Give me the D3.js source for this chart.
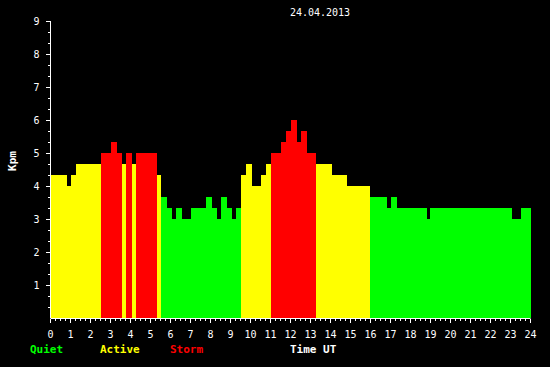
<!DOCTYPE html>
<html><head><meta charset="utf-8">
<script src="https://cdn.jsdelivr.net/npm/d3@7"></script>
<style>html,body{margin:0;padding:0;background:#000;}svg{display:block;}</style>
</head><body>
<svg id="c" width="550" height="367"></svg>
<script>
// Step data: start time (hours UT) of each segment and its Kpm value
const starts = [0,0.8,1.0,1.25,2.5,3.0,3.3,3.55,3.75,4.05,4.25,5.3,5.5,5.8,6.05,6.25,6.55,7.0,7.75,8.05,8.3,8.5,8.8,9.05,9.25,9.5,9.75,10.05,10.5,10.75,11.0,11.5,11.75,12.0,12.3,12.5,12.8,13.25,14.05,14.8,16.0,16.8,17.0,17.3,18.8,19.0,23.05,23.5];
const kpm = [4.33,4.0,4.33,4.67,5.0,5.33,5.0,4.67,5.0,4.67,5.0,4.33,3.67,3.33,3.0,3.33,3.0,3.33,3.67,3.33,3.0,3.67,3.33,3.0,3.33,4.33,4.67,4.0,4.33,4.67,5.0,5.33,5.67,6.0,5.33,5.67,5.0,4.67,4.33,4.0,3.67,3.33,3.67,3.33,3.0,3.33,3.0,3.33];
const endTime = 24;
const xTicks = d3.range(0, 25);
const yTicks = [1,2,3,4,5,6,7,8,9];
const legend = [{t:"Quiet",c:"#00ff00"},{t:"Active",c:"#ffff00"},{t:"Storm",c:"#ff0000"}];
const dateLabel = "24.04.2013";

const svg = d3.select("#c");
svg.append("rect").attr("width",550).attr("height",367).attr("fill","#000");
const x = d3.scaleLinear().domain([0,24]).range([50.5,530.5]);
const y = d3.scaleLinear().domain([0,9]).range([318,21]);
const color = v => v >= 5 ? "#ff0000" : (v >= 4 ? "#ffff00" : "#00ff00");
const font = "'DejaVu Sans Mono', monospace";

const segs = starts.map((s,i)=>({s, e: i+1<starts.length ? starts[i+1] : endTime, v: kpm[i]}));
svg.append("g").selectAll("rect").data(segs).join("rect")
  .attr("x", d=>Math.round(x(d.s)))
  .attr("width", d=>Math.round(x(d.e))-Math.round(x(d.s)))
  .attr("y", d=>Math.round(y(d.v)))
  .attr("height", d=>318-Math.round(y(d.v)))
  .attr("fill", d=>color(d.v))
  .attr("shape-rendering","crispEdges");

// x axis
const gx = svg.append("g").attr("transform","translate(0,318.5)");
gx.append("line").attr("x1",x(0)).attr("x2",x(24)).attr("stroke","#fff");
const minor = d3.range(0, 24.01, 0.25);
gx.selectAll("line.t").data(minor).join("line").attr("class","t")
  .attr("x1",d=>Math.round(x(d)-0.5)+0.5).attr("x2",d=>Math.round(x(d)-0.5)+0.5)
  .attr("y1",0).attr("y2",d=>Math.abs(d-Math.round(d))<1e-6?4.5:2.5)
  .attr("stroke","#fff").attr("shape-rendering","crispEdges");
gx.selectAll("text").data(xTicks).join("text")
  .attr("x",d=>x(d)).attr("y",19).attr("text-anchor","middle")
  .attr("fill","#fff").attr("font-family",font).attr("font-size",10).text(d=>d);

// y axis
const gy = svg.append("g").attr("transform","translate(50.5,0)");
gy.append("line").attr("y1",y(9)).attr("y2",318).attr("stroke","#fff").attr("shape-rendering","crispEdges");
const yminor = d3.range(1, 28).map(k=>k/3);
gy.selectAll("line.t").data(yminor).join("line").attr("class","t")
  .attr("y1",d=>Math.round(y(d))+0.5).attr("y2",d=>Math.round(y(d))+0.5)
  .attr("x1",d=>Math.abs(d-Math.round(d))<1e-6?-5:-2.5).attr("x2",0)
  .attr("stroke","#fff").attr("shape-rendering","crispEdges");
gy.selectAll("text").data(yTicks).join("text")
  .attr("x",-11).attr("y",d=>y(d)+3.5).attr("text-anchor","end")
  .attr("fill","#fff").attr("font-family",font).attr("font-size",10).text(d=>d);

// labels
svg.append("text").attr("transform","translate(16,161) rotate(-90)").attr("text-anchor","middle")
  .attr("fill","#fff").attr("font-family",font).attr("font-size",11).attr("font-weight","bold").text("Kpm");
svg.append("text").attr("x",320).attr("y",16).attr("text-anchor","middle")
  .attr("fill","#fff").attr("font-family",font).attr("font-size",10).text(dateLabel);
const lx = [30,100,170];
svg.selectAll("text.leg").data(legend).join("text").attr("class","leg")
  .attr("x",(d,i)=>lx[i]).attr("y",353).attr("fill",d=>d.c)
  .attr("font-family",font).attr("font-size",11).attr("font-weight","bold").text(d=>d.t);
svg.append("text").attr("x",290).attr("y",353).attr("fill","#fff")
  .attr("font-family",font).attr("font-size",11).attr("font-weight","bold").text("Time UT");
</script>
</body></html>
